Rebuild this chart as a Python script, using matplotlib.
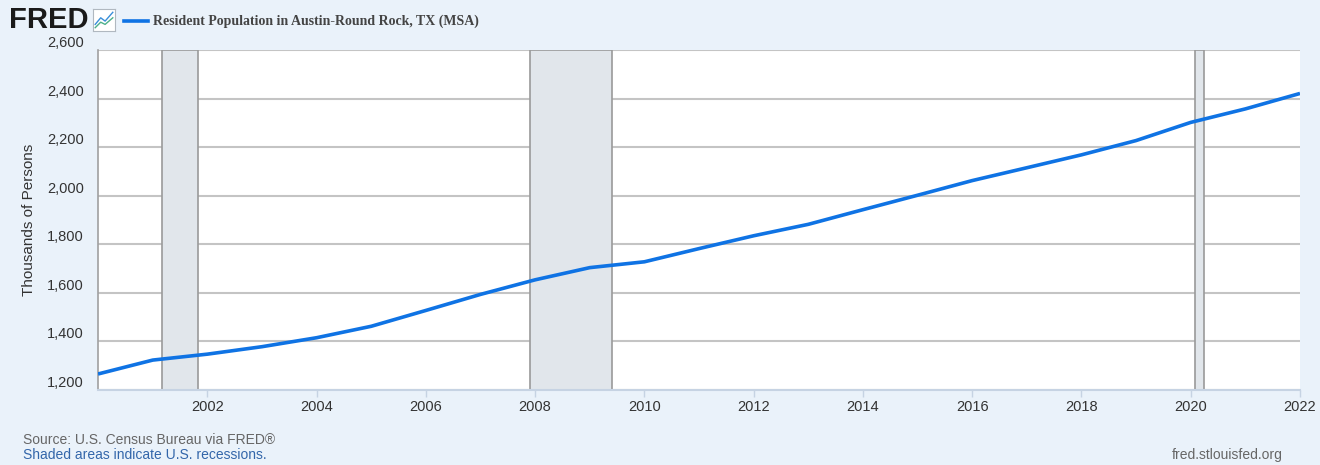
import matplotlib
matplotlib.use('Agg')
import matplotlib.pyplot as plt
import matplotlib.dates as mdates
from datetime import date

# Resident Population in Austin-Round Rock, TX (MSA), thousands of persons
years = list(range(2000, 2023))
population = [1265.9, 1323.2, 1347.6, 1378.3, 1415.2, 1462.4, 1527.6, 1593.6, 1653.6,
              1703.9, 1727.9, 1782.2, 1835.0, 1882.2, 1942.5, 2001.9, 2062.2, 2115.2,
              2168.3, 2227.1, 2301.8, 2357.5, 2421.1]

recessions = [(date(2001, 3, 1), date(2001, 11, 1)),
              (date(2007, 12, 1), date(2009, 6, 1)),
              (date(2020, 2, 1), date(2020, 4, 1))]

ytick_vals = [1200, 1400, 1600, 1800, 2000, 2200, 2400, 2600]
xtick_years = list(range(2002, 2023, 2))

bg = '#eaf2fa'
line_col = '#0f73e4'

fig = plt.figure(figsize=(13.2, 4.65), dpi=100, facecolor=bg)
ax = fig.add_axes([98/1320, 75/465, 1202/1320, 340/465])
ax.set_facecolor('white')

dates = [date(y, 1, 1) for y in years]

for start, end in recessions:
    ax.axvspan(start, end, facecolor='#e1e6eb', edgecolor='#9a9a9a', lw=1.2, zorder=1)

ax.plot(dates, population, color=line_col, lw=2.6, zorder=3, solid_capstyle='butt')

ax.set_xlim(date(2000, 1, 1), date(2022, 1, 1))
ax.set_ylim(1200, 2600)
ax.set_yticks(ytick_vals)
ax.set_yticklabels([f'{v:,}' for v in ytick_vals])
ax.grid(axis='y', color='#c4c4c4', lw=1.5, zorder=0)
ax.set_axisbelow(True)

ax.set_xticks([date(y, 1, 1) for y in xtick_years])
ax.xaxis.set_major_formatter(mdates.DateFormatter('%Y'))

for s in ['top', 'right']:
    ax.spines[s].set_visible(False)
ax.spines['left'].set_color('#a0a0a0')
ax.spines['left'].set_linewidth(1.2)
ax.spines['bottom'].set_color('#c6d3e3')
ax.spines['bottom'].set_linewidth(1.5)

ax.tick_params(axis='y', length=0, pad=10, labelsize=10.5, labelcolor='#333333')
for lbl in ax.get_yticklabels():
    lbl.set_fontfamily('Liberation Sans')
    lbl.set_verticalalignment('bottom')
ax.tick_params(axis='x', length=5, width=1, color='#c6d3e3', pad=2,
               labelsize=10.5, labelcolor='#333333')
for lbl in ax.get_xticklabels():
    lbl.set_fontfamily('Liberation Sans')

ax.set_ylabel('Thousands of Persons', fontsize=11, color='#333333',
              fontfamily='Liberation Sans', labelpad=8)

# header: FRED logo + legend
fig.text(9/1320, 1 - 20/465, 'FRED', fontsize=21, fontweight='bold',
         color='#1a1a1a', fontfamily='Liberation Sans', va='center', ha='left')
icon = fig.add_axes([93/1320, 1 - 31/465, 22/1320, 22/465])
icon.set_facecolor('white')
icon.plot([0.1, 0.35, 0.55, 0.9], [0.3, 0.6, 0.45, 0.85], color='#3a8fd9', lw=1)
icon.plot([0.1, 0.35, 0.55, 0.9], [0.15, 0.4, 0.3, 0.6], color='#4db08a', lw=1)
icon.set_xlim(0, 1)
icon.set_ylim(0, 1)
icon.set_xticks([])
icon.set_yticks([])
for s in icon.spines.values():
    s.set_color('#b0b8c0')
    s.set_linewidth(0.8)

fig.lines.append(plt.Line2D([124/1320, 148/1320], [1 - 21/465, 1 - 21/465],
                            transform=fig.transFigure, color=line_col, lw=2.6))
fig.text(153/1320, 1 - 21/465, 'Resident Population in Austin-Round Rock, TX (MSA)',
         fontsize=10, fontweight='bold', color='#444444',
         fontfamily='Liberation Serif', va='center', ha='left')

# footer
fig.text(23/1320, 1 - 440/465, 'Source: U.S. Census Bureau via FRED®', fontsize=10,
         color='#666666', fontfamily='Liberation Sans', va='center', ha='left')
fig.text(23/1320, 1 - 455/465, 'Shaded areas indicate U.S. recessions.', fontsize=10,
         color='#3366aa', fontfamily='Liberation Sans', va='center', ha='left')
fig.text(1283/1320, 1 - 455/465, 'fred.stlouisfed.org', fontsize=10,
         color='#666666', fontfamily='Liberation Sans', va='center', ha='right')

fig.savefig('out.png', dpi=100, facecolor=bg)
